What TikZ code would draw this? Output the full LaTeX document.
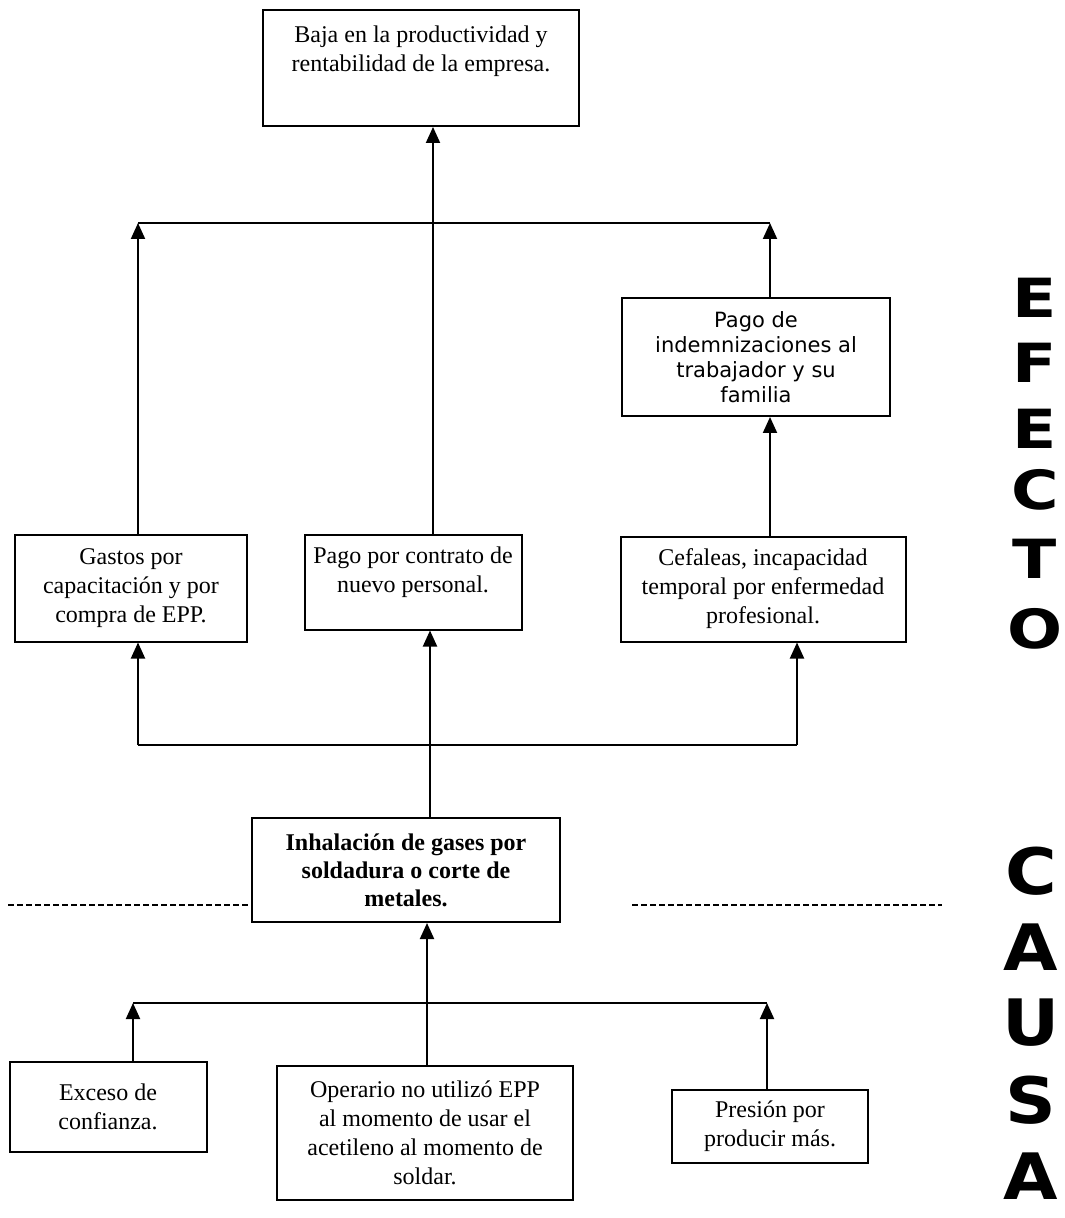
\documentclass[tikz,border=0pt]{standalone}
\usepackage{fontspec}
\setmainfont{Liberation Serif}
\newfontfamily\verdanafont{DejaVu Sans}
\newfontfamily\sidefont{DejaVu Sans}
\usetikzlibrary{arrows.meta}
\newcommand{\wideletter}[2]{\scalebox{#1}[1]{#2}}

\begin{document}
\begin{tikzpicture}[x=0.5pt, y=-0.5pt]
  % styles
  \tikzset{
    box/.style={draw=black, line width=1pt, align=center, inner sep=2pt, font=\fontsize{12}{14.5}\selectfont},
    bus/.style={draw=black, line width=1pt},
    up/.style={draw=black, line width=1pt, -{Triangle[width=7pt,length=8pt]}},
    cut/.style={draw=black, line width=1pt, dash pattern=on 3pt off 1.5pt},
    efecto/.style={font=\sidefont\bfseries\fontsize{27}{27}\selectfont, inner sep=0pt},
    causa/.style={font=\sidefont\bfseries\fontsize{32}{32}\selectfont, inner sep=0pt}
  }
  \useasboundingbox (0,0) rectangle (1064,1218);

  % effect boxes
  \node[box, minimum width=158pt, minimum height=58pt] (baja) at (421,68)
    {Baja en la productividad y\\ rentabilidad de la empresa.\\ \strut};
  \node[box, minimum width=134pt, minimum height=59pt, font=\verdanafont\fontsize{10.5}{12.5}\selectfont] (indemn) at (756,357)
    {Pago de\\ indemnizaciones al\\ trabajador y su\\ familia};
  \node[box, minimum width=116pt, minimum height=53.5pt] (gastos) at (131,588)
    {Gastos por\\ capacitación y por\\ compra de EPP.};
  \node[box, minimum width=108.5pt, minimum height=47.5pt] (contrato) at (413,582)
    {Pago por contrato de\\ nuevo personal.\\[-7pt] \strut};
  \node[box, minimum width=142.5pt, minimum height=52.5pt] (cefaleas) at (763,589)
    {Cefaleas, incapacidad\\ temporal por enfermedad\\ profesional.};

  % main problem
  \node[box, minimum width=154pt, minimum height=52pt, font=\bfseries\fontsize{12}{14}\selectfont] (inhal) at (406,870)
    {Inhalación de gases por\\ soldadura o corte de\\ metales.};

  % cause boxes
  \node[box, minimum width=98.5pt, minimum height=45pt] (exceso) at (108,1107)
    {Exceso de\\ confianza.};
  \node[box, minimum width=148pt, minimum height=67pt] (operario) at (425,1133)
    {Operario no utilizó EPP\\ al momento de usar el\\ acetileno al momento de\\ soldar.};
  \node[box, minimum width=98pt, minimum height=36.5pt] (presion) at (770,1126)
    {Presión por\\ producir más.};

  % coordinates of the bus lines
  \coordinate (topL) at (138,223);   % upper bus, left end
  \coordinate (topM) at (433,223);   % upper bus, middle
  \coordinate (topR) at (770,223);   % upper bus, right end
  \coordinate (midL) at (138,745);   % middle bus, left end
  \coordinate (midM) at (430,745);   % middle bus, middle
  \coordinate (midR) at (797,745);   % middle bus, right end
  \coordinate (lowL) at (133,1003);  % lower bus, left end
  \coordinate (lowM) at (427,1003);  % lower bus, middle
  \coordinate (lowR) at (767,1003);  % lower bus, right end
  \coordinate (cutL) at (8,905);     % dashed divider
  \coordinate (cutA) at (632,905);
  \coordinate (cutB) at (942,905);

  % connectors
  \draw[bus] (topL) -- (topR);
  \draw[up] (gastos.north -| topL) -- (topL);
  \draw[up] (indemn.north -| topR) -- (topR);
  \draw[up] (contrato.north -| topM) -- (baja.south -| topM);
  \draw[up] (cefaleas.north -| topR) -- (indemn.south -| topR);

  \draw[bus] (midL) -- (midR);
  \draw[up] (midL) -- (gastos.south -| midL);
  \draw[up] (midR) -- (cefaleas.south -| midR);
  \draw[up] (inhal.north -| midM) -- (contrato.south -| midM);

  \draw[bus] (lowL) -- (lowR);
  \draw[up] (exceso.north -| lowL) -- (lowL);
  \draw[up] (presion.north -| lowR) -- (lowR);
  \draw[up] (operario.north -| lowM) -- (inhal.south -| lowM);

  % divider
  \draw[cut] (cutL) -- (inhal.west |- cutL);
  \draw[cut] (cutA) -- (cutB);

  % side labels
  \node[efecto] (ef1) at (1035,298) {\wideletter{1.2}{E}};
  \node[efecto] (ef2) at (1035,363) {\wideletter{1.2}{F}};
  \node[efecto] (ef3) at (1035,429) {\wideletter{1.2}{E}};
  \node[efecto] (ef4) at (1035,490) {\wideletter{1.2}{C}};
  \node[efecto] (ef5) at (1035,559) {\wideletter{1.2}{T}};
  \node[efecto] (ef6) at (1035,629) {\wideletter{1.2}{O}};
  \node[causa] (ca1) at (1031,871) {\wideletter{1.1}{C}};
  \node[causa] (ca2) at (1031,947) {\wideletter{1.1}{A}};
  \node[causa] (ca3) at (1031,1023) {\wideletter{1.1}{U}};
  \node[causa] (ca4) at (1031,1100) {\wideletter{1.1}{S}};
  \node[causa] (ca5) at (1031,1176) {\wideletter{1.1}{A}};
\end{tikzpicture}
\end{document}
